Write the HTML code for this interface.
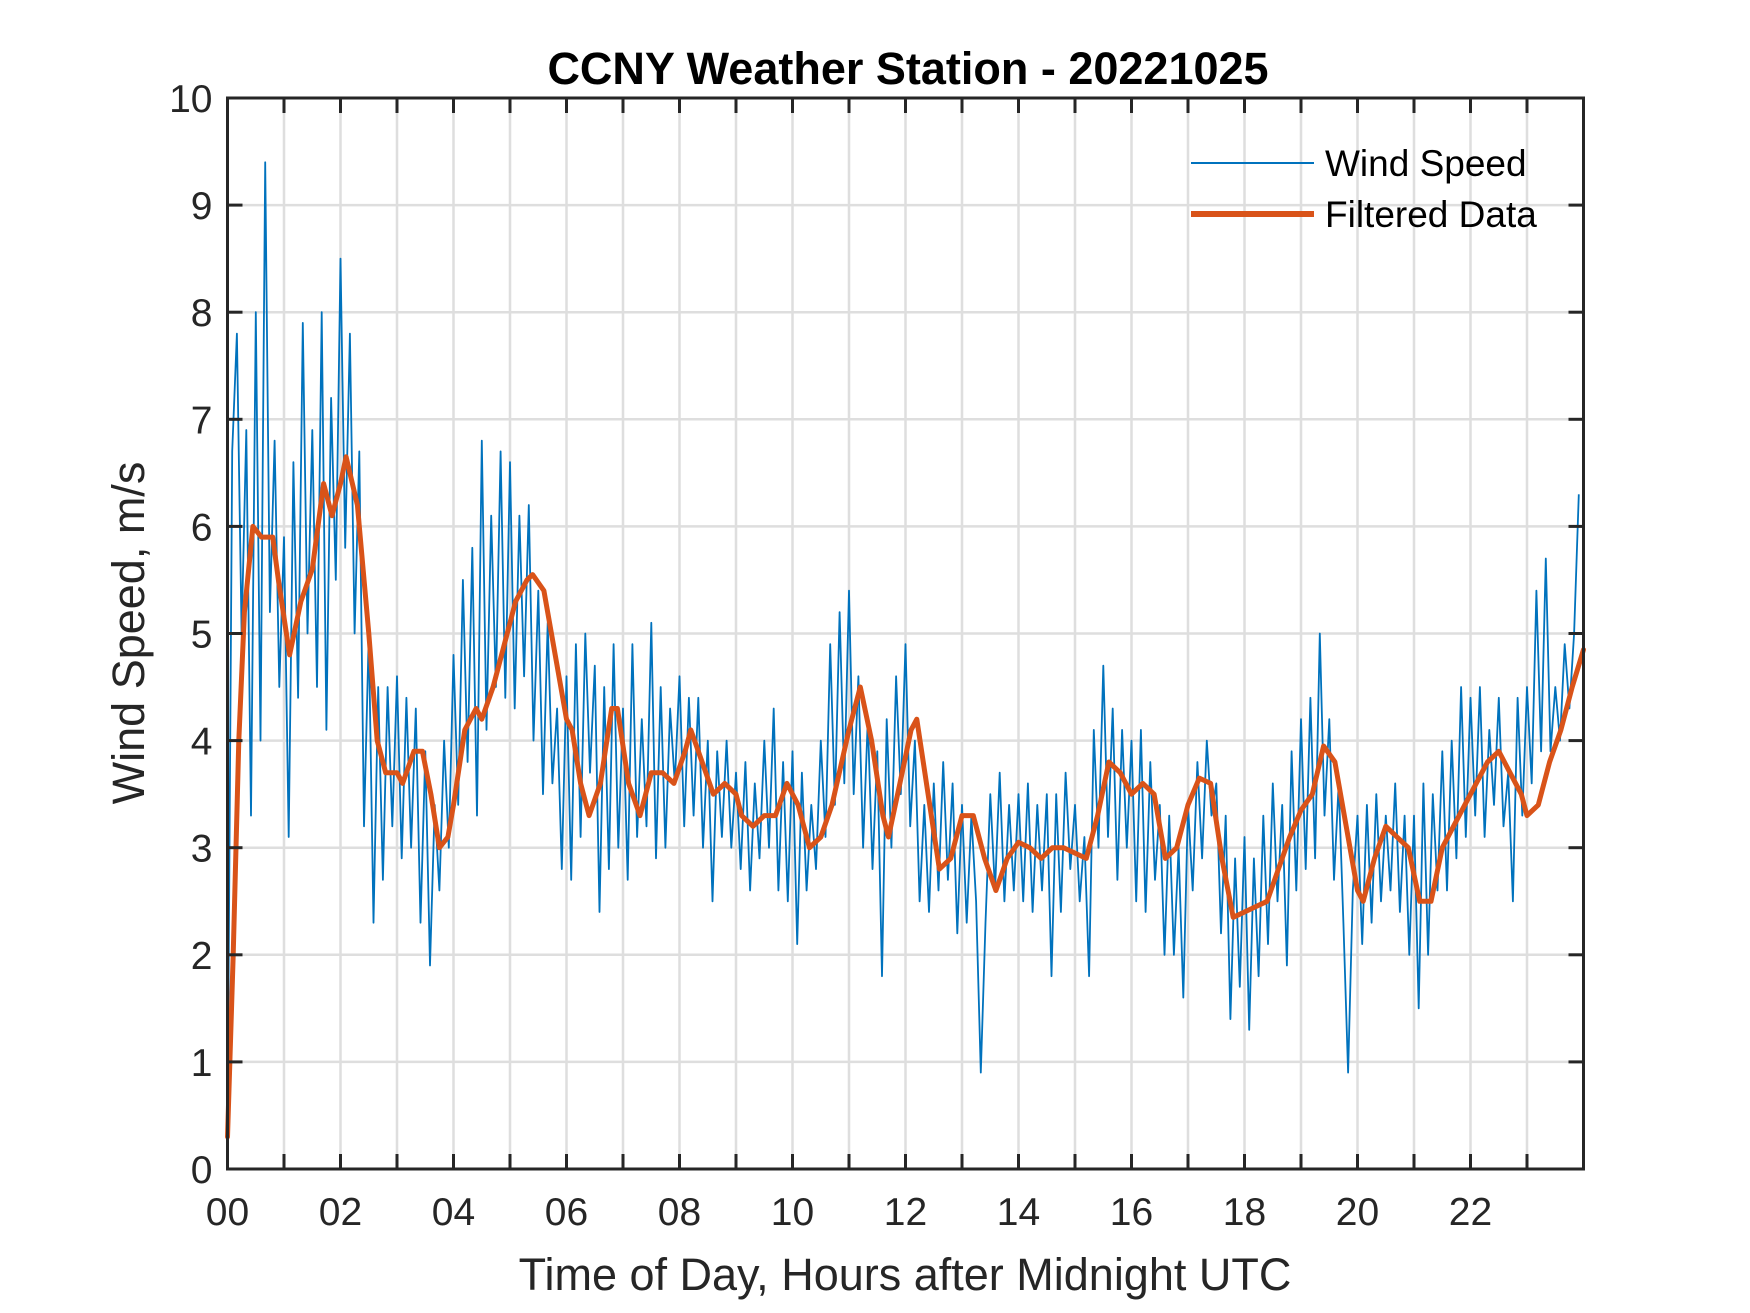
<!DOCTYPE html>
<html><head><meta charset="utf-8"><style>
html,body{margin:0;padding:0;background:#fff;}
svg{display:block;font-family:"Liberation Sans",Arial,sans-serif;}
</style></head><body>
<svg id="chart" width="1750" height="1313" viewBox="0 0 1750 1313" xmlns="http://www.w3.org/2000/svg">
<rect width="1750" height="1313" fill="#fff"/>
<g id="grid"></g>
<g id="series"></g>
<g id="axes"></g>
<text x="908" y="84" text-anchor="middle" font-size="45" font-weight="bold" fill="#000">CCNY Weather Station - 20221025</text>
<text x="905" y="1290" text-anchor="middle" font-size="45" fill="#262626">Time of Day, Hours after Midnight UTC</text>
<text transform="translate(144,633) rotate(-90)" text-anchor="middle" font-size="45" fill="#262626">Wind Speed, m/s</text>
<g>
<line x1="1191" y1="163" x2="1314" y2="163" stroke="#0072BD" stroke-width="2"/>
<text x="1325" y="176" font-size="37" fill="#000">Wind Speed</text>
<line x1="1191" y1="214" x2="1314" y2="214" stroke="#D95319" stroke-width="6"/>
<text x="1325" y="227" font-size="37" fill="#000">Filtered Data</text>
</g>
</svg>
<script>
const xTicks = [0,2,4,6,8,10,12,14,16,18,20,22];
const xTickLabels = ["00","02","04","06","08","10","12","14","16","18","20","22"];
const yTicks = [0,1,2,3,4,5,6,7,8,9,10];
const rawStep = 1/12;
const rawSpeed = [
0.3,6.7,7.8,5.0,6.9,3.3,8.0,4.0,9.4,5.2,6.8,4.5,
5.9,3.1,6.6,4.4,7.9,5.0,6.9,4.5,8.0,4.1,7.2,5.5,
8.5,5.8,7.8,5.0,6.7,3.2,5.0,2.3,4.5,2.7,4.5,3.2,
4.6,2.9,4.4,3.0,4.3,2.3,3.9,1.9,3.4,2.6,4.0,3.0,
4.8,3.4,5.5,3.8,5.8,3.3,6.8,4.1,6.1,4.5,6.7,4.4,
6.6,4.3,6.1,4.6,6.2,4.0,5.4,3.5,5.1,3.6,4.3,2.8,
4.6,2.7,4.9,3.1,5.0,3.7,4.7,2.4,4.5,2.8,4.9,3.0,
4.3,2.7,4.9,3.1,4.2,3.2,5.1,2.9,4.5,3.0,4.3,3.6,
4.6,3.2,4.4,3.3,4.4,3.0,4.0,2.5,3.9,3.1,4.0,3.0,
3.7,2.8,3.8,2.6,3.6,2.9,4.0,3.0,4.3,2.6,3.8,2.5,
3.9,2.1,3.7,2.6,3.4,2.8,4.0,3.1,4.9,3.4,5.2,3.6,
5.4,3.5,4.6,3.0,4.2,2.8,3.9,1.8,4.2,3.0,4.6,3.5,
4.9,3.2,4.0,2.5,3.4,2.4,3.6,2.6,3.8,2.7,3.6,2.2,
3.4,2.3,3.3,2.5,0.9,2.3,3.5,2.6,3.7,2.5,3.4,2.6,
3.5,2.5,3.6,2.4,3.4,2.6,3.5,1.8,3.5,2.4,3.7,2.8,
3.4,2.5,3.1,1.8,4.1,3.0,4.7,3.1,4.3,2.7,4.1,3.0,
4.0,2.5,4.1,2.4,3.8,2.7,3.4,2.0,3.3,2.0,3.0,1.6,
3.4,2.6,3.8,2.9,4.0,3.3,3.6,2.2,3.3,1.4,2.9,1.7,
3.1,1.3,2.9,1.8,3.3,2.1,3.6,2.5,3.4,1.9,3.9,2.6,
4.2,2.8,4.4,2.9,5.0,3.3,4.2,2.7,3.6,2.3,0.9,2.6,
3.3,2.1,3.4,2.3,3.5,2.5,3.3,2.6,3.6,2.4,3.3,2.0,
3.3,1.5,3.6,2.0,3.5,2.6,3.9,2.6,4.0,2.9,4.5,3.1,
4.4,3.3,4.5,3.1,4.1,3.4,4.4,3.2,3.7,2.5,4.4,3.3,
4.5,3.6,5.4,3.9,5.7,3.9,4.5,4.0,4.9,4.3,5.0,6.3
];
const filtHours = [0,0.1,0.2,0.3,0.45,0.6,0.8,0.9,1.1,1.3,1.5,1.7,1.85,2.0,2.1,2.3,2.5,2.65,2.8,3.0,3.1,3.3,3.45,3.6,3.75,3.9,4.0,4.2,4.4,4.5,4.7,4.9,5.1,5.3,5.4,5.6,5.8,6.0,6.1,6.25,6.4,6.6,6.8,6.9,7.1,7.3,7.5,7.7,7.9,8.1,8.2,8.4,8.6,8.8,9.0,9.1,9.3,9.5,9.7,9.9,10.1,10.3,10.5,10.7,11.0,11.2,11.4,11.6,11.7,11.9,12.1,12.2,12.4,12.6,12.8,13.0,13.2,13.4,13.6,13.8,14.0,14.2,14.4,14.6,14.8,15.0,15.2,15.4,15.6,15.8,16.0,16.2,16.4,16.6,16.8,17.0,17.2,17.4,17.6,17.8,18.0,18.2,18.4,18.6,18.8,19.0,19.2,19.4,19.6,19.8,20.0,20.1,20.3,20.5,20.7,20.9,21.1,21.3,21.5,21.7,21.9,22.1,22.3,22.5,22.7,22.9,23.0,23.2,23.4,23.6,23.8,24.0];
const filtSpeed = [0.3,2.0,4.0,5.2,6.0,5.9,5.9,5.5,4.8,5.3,5.6,6.4,6.1,6.4,6.65,6.2,5.0,4.0,3.7,3.7,3.6,3.9,3.9,3.5,3.0,3.1,3.4,4.1,4.3,4.2,4.5,4.9,5.3,5.5,5.55,5.4,4.8,4.2,4.1,3.6,3.3,3.6,4.3,4.3,3.6,3.3,3.7,3.7,3.6,3.9,4.1,3.8,3.5,3.6,3.5,3.3,3.2,3.3,3.3,3.6,3.4,3.0,3.1,3.4,4.1,4.5,4.0,3.3,3.1,3.6,4.1,4.2,3.5,2.8,2.9,3.3,3.3,2.9,2.6,2.9,3.05,3.0,2.9,3.0,3.0,2.95,2.9,3.3,3.8,3.7,3.5,3.6,3.5,2.9,3.0,3.4,3.65,3.6,2.9,2.35,2.4,2.45,2.5,2.8,3.1,3.35,3.5,3.95,3.8,3.2,2.6,2.5,2.9,3.2,3.1,3.0,2.5,2.5,3.0,3.2,3.4,3.6,3.8,3.9,3.7,3.5,3.3,3.4,3.8,4.1,4.5,4.85];

const X0=227.5, X1=1583.5, Y0=1169, Y1=98;
const xs = h => X0 + (h/24)*(X1-X0);
const ys = v => Y0 - (v/10)*(Y0-Y1);
const NS="http://www.w3.org/2000/svg";
function mk(tag, attrs){const e=document.createElementNS(NS,tag);for(const k in attrs)e.setAttribute(k,attrs[k]);return e;}
const grid=document.getElementById('grid'), axes=document.getElementById('axes'), series=document.getElementById('series');
for(let h=1;h<24;h++){
  const l=mk('line',{x1:xs(h),x2:xs(h),y1:Y1,y2:Y0,stroke:'#dedede','stroke-width':2.5});
  
  
  grid.appendChild(l);
}
yTicks.forEach(v=>{
  if(v===0||v===10)return;
  const l=mk('line',{x1:X0,x2:X1,y1:ys(v),y2:ys(v),stroke:'#dedede','stroke-width':2.5});
  
  
  grid.appendChild(l);
});
let pts=rawSpeed.map((v,i)=>xs(Math.min(i*rawStep,24)).toFixed(1)+','+ys(v).toFixed(1)).join(' ');
const raw=mk('polyline',{points:pts,fill:'none',stroke:'#0072BD','stroke-width':1.8,'stroke-linejoin':'round'});


series.appendChild(raw);
pts=filtSpeed.map((v,i)=>xs(filtHours[i]).toFixed(1)+','+ys(v).toFixed(1)).join(' ');
const filt=mk('polyline',{points:pts,fill:'none',stroke:'#D95319','stroke-width':5,'stroke-linejoin':'round','stroke-linecap':'round'});


series.appendChild(filt);
const box=mk('rect',{x:X0,y:Y1,width:X1-X0,height:Y0-Y1,fill:'none',stroke:'#262626','stroke-width':3});


axes.appendChild(box);
for(let h=1;h<24;h++){
  const t1=mk('line',{x1:xs(h),x2:xs(h),y1:Y0,y2:Y0-15,stroke:'#262626','stroke-width':3});
  
  
  axes.appendChild(t1);
  const t2=mk('line',{x1:xs(h),x2:xs(h),y1:Y1,y2:Y1+15,stroke:'#262626','stroke-width':3});
  
  
  axes.appendChild(t2);
}
xTicks.forEach((h,i)=>{
  const t=mk('text',{x:xs(h),y:Y0+56,'text-anchor':'middle','font-size':39,fill:'#262626'});
  t.textContent=xTickLabels[i];
  
  
  axes.appendChild(t);
});
yTicks.forEach(v=>{
  const a=mk('line',{x1:X0,x2:X0+15,y1:ys(v),y2:ys(v),stroke:'#262626','stroke-width':3});
  
  
  axes.appendChild(a);
  const b=mk('line',{x1:X1,x2:X1-15,y1:ys(v),y2:ys(v),stroke:'#262626','stroke-width':3});
  
  
  axes.appendChild(b);
  const t=mk('text',{x:X0-15,y:ys(v)+14,'text-anchor':'end','font-size':39,fill:'#262626'});
  t.textContent=String(v);
  
  
  axes.appendChild(t);
});
</script>
</body></html>
